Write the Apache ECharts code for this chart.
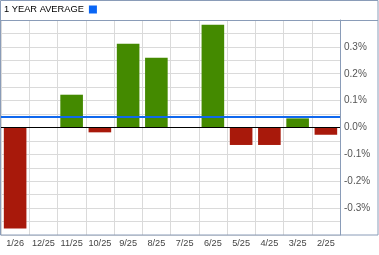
<!DOCTYPE html>
<html>
<head>
<meta charset="utf-8">
<script src="https://cdn.jsdelivr.net/npm/echarts@6/dist/echarts.min.js"></script>
<style>html,body{margin:0;padding:0;background:#fff}#c{width:379px;height:255px}</style>
</head>
<body>
<div id="c"></div>
<script>
var categories = ['1/26','12/25','11/25','10/25','9/25','8/25','7/25','6/25','5/25','4/25','3/25','2/25'];
var returns = [-0.376, null, 0.122, -0.018, 0.312, 0.260, null, 0.382, -0.065, -0.065, 0.034, -0.027];
var average = 0.043;
var seriesName = '1 YEAR AVERAGE';
var yLabels = [-0.3, -0.2, -0.1, 0, 0.1, 0.2, 0.3];

var frame = '#8a9cb8';
var chart = echarts.init(document.getElementById('c'), null, {renderer: 'canvas'});
chart.setOption({
  animation: false,
  backgroundColor: '#fff',
  textStyle: {fontFamily: 'Liberation Sans, Arial, sans-serif'},
  legend: {
    left: 4, top: 5, padding: 0, align: 'right', icon: 'rect',
    itemWidth: 8, itemHeight: 8,
    textStyle: {color: '#000', fontSize: 9.3, fontFamily: 'Liberation Sans, Arial, sans-serif'},
    data: [seriesName]
  },
  grid: {left: 1, right: 39, top: 20, bottom: 20, show: false},
  xAxis: {
    type: 'category', data: categories, boundaryGap: true,
    axisLine: {show: true, lineStyle: {color: frame, width: 1}},
    axisTick: {show: false},
    axisLabel: {color: '#444', fontSize: 9.2, margin: 4, interval: 0},
    splitLine: {show: true, interval: 0, lineStyle: {color: '#dadada', width: 1}}
  },
  yAxis: {
    type: 'value', position: 'right', min: -0.4, max: 0.4, interval: 0.05,
    axisLine: {show: true, lineStyle: {color: frame, width: 1}},
    axisTick: {show: false},
    axisLabel: {
      color: '#555', fontSize: 10, margin: 4,
      formatter: function (v) {
        for (var i = 0; i < yLabels.length; i++) {
          if (Math.abs(v - yLabels[i]) < 1e-6) return yLabels[i].toFixed(1) + '%';
        }
        return '';
      }
    },
    splitLine: {show: true, lineStyle: {color: '#dadada', width: 1}}
  },
  series: [
    {
      type: 'bar', name: 'returns', data: returns, barCategoryGap: '20%',
      itemStyle: {color: function (p) { return p.value >= 0 ? '#448a00' : '#a8190b'; }},
      markLine: {
        silent: true, symbol: 'none', label: {show: false},
        lineStyle: {color: '#000', width: 1, type: 'solid'},
        data: [{yAxis: 0}]
      },
      z: 2
    },
    {
      type: 'line', name: seriesName, data: [],
      itemStyle: {color: '#0a66f5'},
      lineStyle: {color: '#0a66f5'},
      markLine: {
        silent: true, symbol: 'none', label: {show: false},
        lineStyle: {color: '#1068ee', width: 2, type: 'solid'},
        data: [{yAxis: average}]
      },
      z: 5
    }
  ],
  graphic: [
    {type: 'rect', shape: {x: 0.5, y: 0.5, width: 377.5, height: 234.5}, style: {fill: null, stroke: frame, lineWidth: 1}, z: 10, silent: true},
    {type: 'line', shape: {x1: 0, y1: 20.5, x2: 378, y2: 20.5}, style: {stroke: frame, lineWidth: 1}, z: 10, silent: true}
  ]
});
</script>
</body>
</html>
